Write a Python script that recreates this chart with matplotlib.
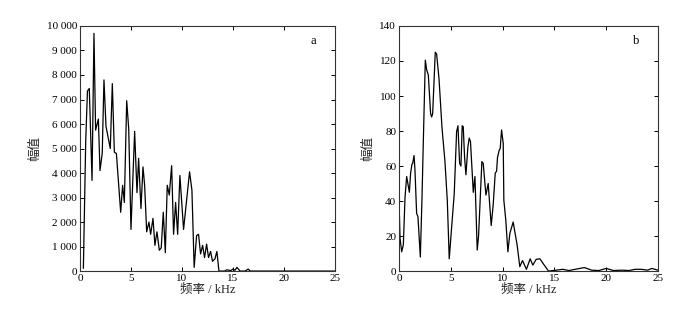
import matplotlib
matplotlib.use("Agg")
import matplotlib.pyplot as plt
from matplotlib.ticker import FuncFormatter, MultipleLocator

# ── Data: panel a (frequency kHz, amplitude) ──────────────────────────────────
freq_a = [0.33, 0.56, 0.73, 0.91, 1.18, 1.37, 1.53, 1.80, 1.96, 2.18, 2.35,
          2.55, 2.97, 3.17, 3.37, 3.57, 3.99, 4.18, 4.35, 4.58, 4.78, 5.00,
          5.36, 5.59, 5.75, 5.98, 6.18, 6.34, 6.54, 6.76, 6.93, 7.16, 7.35,
          7.55, 7.78, 7.97, 8.17, 8.37, 8.56, 8.76, 8.99, 9.18, 9.38, 9.58,
          9.80, 10.16, 10.75, 10.98, 11.20, 11.44, 11.63, 11.83, 12.03, 12.22,
          12.42, 12.61, 12.81, 13.00, 13.24, 13.43, 13.63, 14.20, 14.40,
          14.80, 15.00, 15.20, 15.40, 15.70, 16.20, 16.50, 16.70, 25.0]
amp_a = [120, 5300, 7350, 7450, 3700, 9700, 5750, 6200, 4100, 4800, 7800,
         5900, 5000, 7650, 4850, 4800, 2400, 3500, 2800, 6950, 5800, 1700,
         5700, 3200, 4600, 2550, 4250, 3500, 1600, 2000, 1500, 2150, 1050,
         1600, 850, 950, 2400, 750, 3500, 3100, 4300, 1500, 2800, 1500,
         3900, 1700, 4050, 3300, 150, 1450, 1500, 700, 1050, 550,
         1100, 550, 800, 400, 500, 800, 0, 0, 50,
         20, 80, 30, 150, 0, 0, 80, 0, 0]

# ── Data: panel b ─────────────────────────────────────────────────────────────
freq_b = [0.0, 0.10, 0.26, 0.42, 0.58, 0.74, 1.00, 1.12, 1.25, 1.32, 1.45,
          1.54, 1.70, 1.83, 2.06, 2.22, 2.38, 2.54, 2.67, 2.83, 3.05, 3.15,
          3.25, 3.50, 3.63, 3.86, 4.15, 4.43, 4.66, 4.85, 5.08, 5.33, 5.56,
          5.69, 5.85, 5.98, 6.10, 6.20, 6.33, 6.46, 6.65, 6.78, 6.90, 7.17,
          7.33, 7.55, 7.68, 8.00, 8.13, 8.39, 8.61, 8.90, 9.09, 9.29, 9.42,
          9.51, 9.67, 9.77, 9.90, 10.06, 10.12, 10.31, 10.51, 10.70, 11.02,
          11.40, 11.66, 11.92, 12.30, 12.66, 12.92, 13.24, 13.60, 13.90,
          14.43, 15.2, 15.8, 16.4, 17.0, 17.9, 18.6, 19.3, 20.0, 20.7, 21.5,
          22.2, 22.8, 23.4, 24.0, 24.4, 25.0]
amp_b = [40.5, 18.7, 11, 15, 42, 54, 45, 56, 61, 61.5, 66,
         58, 33, 31, 8, 42, 82, 120.5, 115, 112, 90, 88,
         90, 125, 124, 110, 82, 63, 40.5, 7, 25, 44, 79.6,
         83, 61.5, 60, 83, 82.5, 65, 55, 71, 76, 74, 45,
         54, 12, 20, 62.5, 61.5, 43.4, 50, 26, 37.7, 56, 57,
         65, 69, 70, 80.6, 73, 40.5, 29, 11, 21.5, 28,
         15, 2.5, 6, 1, 7, 3.4, 6.7, 7, 4.4,
         0, 0.5, 1, 0.3, 1, 2, 0.5, 0.3, 1.5, 0.3, 0.5,
         0.3, 1, 1, 0.5, 1.5, 0.5]

x_ticks = [0, 5, 10, 15, 20, 25]

plt.rcParams["font.family"] = ["Liberation Serif", "Noto Sans CJK SC"]
plt.rcParams["axes.linewidth"] = 0.8
plt.rcParams["axes.edgecolor"] = "#333333"


def thousands(v, _pos):
    return f"{v:,.0f}".replace(",", " ")


def style_axis(ax, ymax, ystep, label):
    ax.set_xlim(0, 25)
    ax.set_ylim(0, ymax)
    ax.set_xticks(x_ticks)
    ax.yaxis.set_major_locator(MultipleLocator(ystep))
    ax.yaxis.set_major_formatter(FuncFormatter(thousands))
    ax.tick_params(direction="in", length=3, width=0.7, labelsize=8,
                   top=True, right=True, pad=2)
    ax.set_xlabel("频率 / kHz", fontsize=9, labelpad=1, color="#222222")
    ax.set_ylabel("幅值", fontsize=9, labelpad=4, color="#222222")
    ax.text(0.915, 0.94, label, transform=ax.transAxes, fontsize=9,
            ha="center", va="center")


fig = plt.figure(figsize=(7.0, 3.13), dpi=100)
ax_a = fig.add_axes([0.1143, 0.134, 0.364, 0.783])
ax_b = fig.add_axes([0.570, 0.134, 0.370, 0.783])

ax_a.plot(freq_a, amp_a, color="black", linewidth=0.9)
style_axis(ax_a, 10000, 1000, "a")

ax_b.plot(freq_b, amp_b, color="black", linewidth=0.9)
style_axis(ax_b, 140, 20, "b")

fig.savefig("out.png", dpi=100)
